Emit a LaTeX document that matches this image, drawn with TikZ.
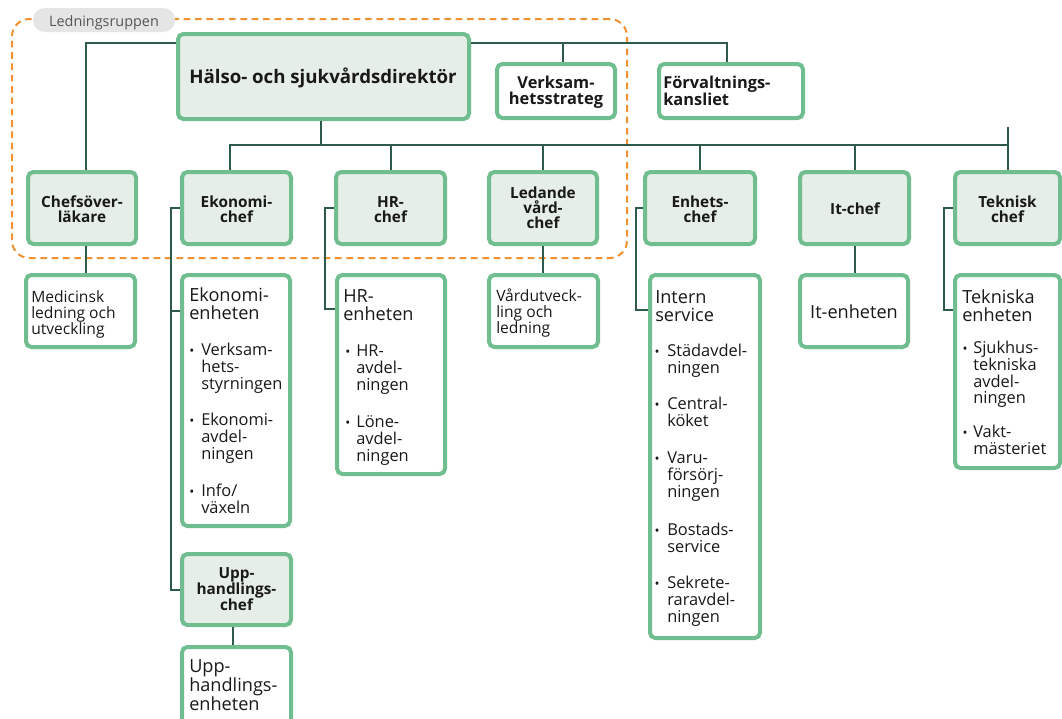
\documentclass[tikz,border=0pt]{standalone}
\usepackage{fontspec}
\setmainfont{Open Sans}
\usetikzlibrary{fit,calc}
\definecolor{boxgreen}{RGB}{112,189,144}
\definecolor{cheffill}{RGB}{230,238,232}
\definecolor{linec}{RGB}{45,90,75}
\definecolor{dashor}{RGB}{240,145,50}
\definecolor{pillfill}{RGB}{229,229,229}
\definecolor{pilltext}{RGB}{85,85,85}
\definecolor{txt}{RGB}{25,25,25}
\newcommand\Ctr[1]{\parbox[t]{150pt}{\centering #1}}
\newcommand\Lft[1]{\parbox[t]{150pt}{\raggedright #1}}
\newcommand\bul[5]{\node[bdot] (#1d) at (#2,#4) {•};\node[body] (#1) at (#3,#4) {\Lft{#5}};}
\begin{document}
\begin{tikzpicture}[x=0.75pt,y=-0.75pt,
  box/.style={draw=boxgreen, line width=3pt, rounded corners=4pt, inner sep=0pt},
  chefbox/.style={box, fill=cheffill},
  unitbox/.style={box, fill=white},
  conn/.style={draw=linec, line width=1.5pt},
  btxt/.style={anchor=base, inner sep=0pt, text=txt, font=\bfseries\fontsize{11.5}{11.25}\selectfont},
  bltxt/.style={anchor=base west, inner sep=0pt, text=txt, font=\bfseries\fontsize{12.3}{12}\selectfont},
  ttl/.style={anchor=base west, inner sep=0pt, text=txt, font=\fontsize{13.6}{13.5}\selectfont},
  body/.style={anchor=base west, inner sep=0pt, text=txt, font=\fontsize{12.3}{13.1}\selectfont},
  plain/.style={anchor=base west, inner sep=0pt, text=txt, font=\fontsize{11.7}{12}\selectfont},
  bdot/.style={anchor=base, inner sep=0pt, text=txt, font=\fontsize{10}{10}\selectfont}
]
\useasboundingbox (0,0) rectangle (1062,718);
\fill[white] (0,0) rectangle (1062,718);
\clip (0,0) rectangle (1062,718);

% group frame and label
\node[draw=dashor, line width=1.5pt, dash pattern=on 5pt off 3.5pt, rounded corners=13pt, inner sep=0pt, fit={(12,19) (627,258)}] (grp) {};
\node[fill=pillfill, rounded corners=9pt, inner sep=0pt, fit={(33,8) (175,32)}] (pill) {};
\node[anchor=base, inner sep=0pt, text=pilltext, font=\fontsize{10.8}{12}\selectfont] (pillt) at (104,26) {Ledningsruppen};

% boxes
\node[chefbox, fit={(178,34) (469,119)}] (dir) {};
\node[unitbox, fit={(497,64) (615,118)}] (vs) {};
\node[unitbox, fit={(659,64) (803,118)}] (fk) {};
\node[chefbox, fit={(28,172) (136,244)}] (cso) {};
\node[chefbox, fit={(182,172) (291,244)}] (ek) {};
\node[chefbox, fit={(336,172) (445,244)}] (hr) {};
\node[chefbox, fit={(489,172) (597,244)}] (ld) {};
\node[chefbox, fit={(645,172) (755,244)}] (ec) {};
\node[chefbox, fit={(800,172) (909,244)}] (it) {};
\node[chefbox, fit={(955,172) (1060,244)}] (tk) {};
\node[unitbox, fit={(26,275) (135,347)}] (med) {};
\node[unitbox, fit={(182,275) (290,526)}] (eke) {};
\node[unitbox, fit={(337,275) (445,474)}] (hre) {};
\node[unitbox, fit={(489,275) (598,347)}] (vu) {};
\node[unitbox, fit={(650,275) (760,638)}] (is) {};
\node[unitbox, fit={(800,275) (908,347)}] (ite) {};
\node[unitbox, fit={(955,275) (1060,468)}] (te) {};
\node[chefbox, fit={(182,554) (291,625)}] (upc) {};
\node[unitbox, fit={(182,647) (291,740)}] (upe) {};

% connectors
\coordinate (tb) at (0,43);
\coordinate (bar) at (0,145);
\coordinate (tkstub) at (0,127);
\coordinate (eketick) at (0,311);
\coordinate (hretick) at (0,309);
\coordinate (istick) at (0,310);
\coordinate (tetick) at (0,310);
\draw[conn] (dir.west |- tb) -| ($(cso.north)+(4,0)$);
\draw[conn] (dir.east |- tb) -| ($(fk.north)+(-4,0)$);
\path ($(vs.north)+(7,0)$) coordinate (vsn);
\draw[conn] (vsn) -- (vsn |- tb);
\path ($(dir.south)+(-2.5,0)$) coordinate (dirs);
\draw[conn] (dirs) -- (dirs |- bar);
\path ($(ek.north)+(-6.5,0)$) coordinate (ekn);
\draw[conn] (ekn) |- (tk.north |- bar);
\foreach \n in {hr,ld,ec,it} \draw[conn] (\n.north |- bar) -- (\n.north);
\draw[conn] (tk.north |- tkstub) -- (tk.north);
\path ($(cso.south)+(4,0)$) coordinate (css);
\draw[conn] (css) -- (css |- med.north);
\draw[conn] (ld.south) -- (ld.south |- vu.north);
\draw[conn] (it.south) -- (it.south |- ite.north);
\path ($(upc.south)+(-3.5,0)$) coordinate (upcs);
\draw[conn] (upcs) -- (upcs |- upe.north);
\draw[conn] (ek.west) -- ++(-9,0) coordinate (ekx) |- (upc.west);
\draw[conn] (ekx |- eketick) -- (eke.west |- eketick);
\draw[conn] (hr.west) -- ++(-9,0) |- (hre.west |- hretick);
\draw[conn] (ec.west) -- ++(-7,0) |- (is.west |- istick);
\draw[conn] (tk.west) -- ++(-9,0) |- (te.west |- tetick);

% texts
\node[btxt, font=\bfseries\fontsize{14}{16}\selectfont] (dirt) at (323,83) {Hälso- och sjukvårdsdirektör};
\node[btxt, font=\bfseries\fontsize{12.3}{12}\selectfont] (vst) at (556,88) {\Ctr{Verksam-\\hetsstrateg}};
\node[bltxt] (fkt) at (663,88) {\Lft{Förvaltnings-\\kansliet}};
\node[btxt] (csot) at (82,207) {\Ctr{Chefsöver-\\läkare}};
\node[btxt] (ekt) at (236.5,207) {\Ctr{Ekonomi-\\chef}};
\node[btxt] (hrt) at (390.5,207) {\Ctr{HR-\\chef}};
\node[btxt, font=\bfseries\fontsize{11.5}{11.6}\selectfont] (ldt) at (543,198) {\Ctr{Ledande\\vård-\\chef}};
\node[btxt] (ect) at (700,207) {\Ctr{Enhets-\\chef}};
\node[btxt] (itt) at (855,214.5) {It-chef};
\node[btxt] (tkt) at (1007.5,207) {\Ctr{Teknisk\\chef}};
\node[btxt, font=\bfseries\fontsize{11.5}{12}\selectfont] (upct) at (236.5,578) {\Ctr{Upp-\\handlings-\\chef}};

\node[plain] (medt) at (31,302) {\Lft{Medicinsk\\ledning och\\utveckling}};
\node[plain] (vut) at (496,301) {\Lft{Vårdutveck-\\ling och\\ledning}};
\node[ttl, anchor=base] (itet) at (854,318) {It-enheten};
\node[ttl, font=\fontsize{13.6}{13.1}\selectfont] (upet) at (189,672) {\Lft{Upp-\\handlings-\\enheten}};

\node[ttl] (eket) at (189,301) {\Lft{Ekonomi-\\enheten}};
\bul{eke1}{192}{201}{355}{Verksam-\\hets-\\styrningen}
\bul{eke2}{192}{201}{425}{Ekonomi-\\avdel-\\ningen}
\bul{eke3}{192}{201}{496}{Info/\\växeln}

\node[ttl] (hret) at (343,302) {\Lft{HR-\\enheten}};
\bul{hre1}{348}{356}{356}{HR-\\avdel-\\ningen}
\bul{hre2}{348}{356}{427}{Löne-\\avdel-\\ningen}

\node[ttl] (ist) at (655,303) {\Lft{Intern\\service}};
\bul{is1}{657}{667}{356}{Städavdel-\\ningen}
\bul{is2}{657}{667}{409}{Central-\\köket}
\bul{is3}{657}{667}{463}{Varu-\\försörj-\\ningen}
\bul{is4}{657}{667}{535}{Bostads-\\service}
\bul{is5}{657}{667}{588}{Sekrete-\\raravdel-\\ningen}

\node[ttl] (tet) at (962,303) {\Lft{Tekniska\\enheten}};
\node[bdot] (te1d) at (965,353) {•};
\node[body, font=\fontsize{12.3}{12.2}\selectfont] (te1) at (973,353) {\Lft{Sjukhus-\\tekniska\\avdel-\\ningen}};
\node[bdot] (te2d) at (965,437) {•};
\node[body] (te2) at (973,437) {\Lft{Vakt-\\mästeriet}};
\end{tikzpicture}
\end{document}
